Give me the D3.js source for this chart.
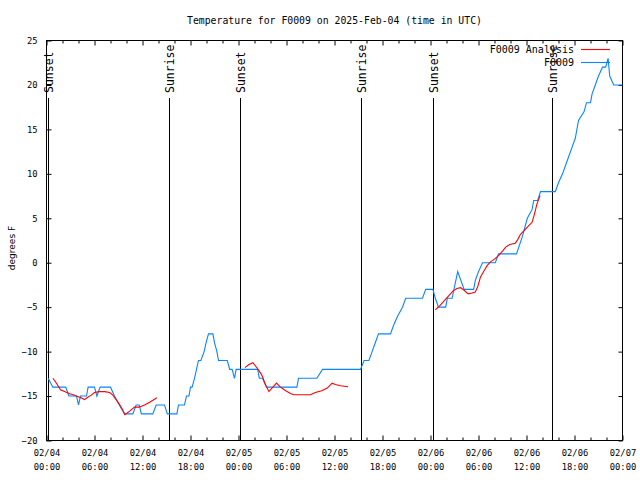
<!DOCTYPE html>
<html><head><meta charset="utf-8">
<script src="https://cdn.jsdelivr.net/npm/d3@7"></script>
<style>body{margin:0;background:#fff}</style>
</head><body>
<svg id="c" width="640" height="480"></svg>
<script>
// ---- data ----
const titleText = "Temperature for F0009 on 2025-Feb-04 (time in UTC)";
const yLabel = "degrees F";
// hours since 02/04 00:00 UTC
const obsHours = [0.2,0.8,2.4,2.8,3.75,4.0,4.25,5.0,5.2,6.0,6.3,6.7,8.0,8.5,9.1,9.75,10.8,11.2,11.6,11.85,13.3,13.7,14.75,15.1,16.3,16.5,17.25,17.5,17.8,18.0,18.2,18.5,18.75,19.0,19.3,19.7,19.95,20.25,20.8,21.0,21.3,21.5,22.6,22.9,23.2,23.5,23.7,26.4,26.6,27.0,27.5,31.3,31.5,33.8,34.5,39.25,39.7,40.3,40.7,41.1,41.5,43.0,43.4,43.9,44.5,44.9,47.0,47.4,48.3,48.6,49.0,49.9,50.1,50.7,51.4,52.2,53.4,53.6,54.0,54.5,56.1,56.5,58.75,59.5,60.1,60.7,60.9,61.4,61.75,63.6,64.0,64.5,64.9,65.3,65.7,66.1,66.5,67.2,67.5,68.0,68.2,68.6,69.0,69.5,69.9,70.2,70.4,70.9,72];
const obsTemps = [-13,-14,-14,-15,-15,-16,-15,-15,-14,-14,-15,-14,-14,-15,-16,-17,-17,-16,-16,-17,-17,-16,-16,-17,-17,-16,-16,-15,-15,-14,-14,-13,-12,-11,-11,-10,-9,-8,-8,-9,-10,-11,-11,-12,-12,-13,-12,-12,-13,-13,-14,-14,-13,-13,-12,-12,-11,-11,-10,-9,-8,-8,-7,-6,-5,-4,-4,-3,-3,-4,-5,-5,-4,-4,-1,-3,-3,-2,-1,0,0,1,1,3,5,6,7,7,8,8,9,10,11,12,13,14,16,17,18,18,19,20,21,22,22,23,21,20,20];
const anaHours = [0.8,1.2,1.75,2.25,2.9,3.5,3.9,4.3,4.75,5.2,5.6,6.0,6.6,7.25,7.9,8.3,8.7,9.1,9.5,9.8,10.4,11.0,11.6,12.25,12.9,13.8,
  null,
  24.8,25.3,25.8,26.2,26.6,26.95,27.3,27.8,28.3,28.75,29.25,29.9,30.5,30.9,32.0,33.0,33.6,34.4,35.1,35.7,36.1,36.75,37.7,
  null,
  48.6,49.2,49.7,50.3,50.8,51.3,51.75,52.2,52.7,53.2,53.6,53.9,54.25,54.7,55.1,55.5,56.0,56.5,57.0,57.4,57.9,58.6,58.9,59.25,59.7,60.2,60.7,61.0,61.3,61.7];
const anaTemps = [-13.0,-13.5,-14.3,-14.5,-14.75,-14.9,-15.05,-15.2,-15.4,-15.1,-14.9,-14.6,-14.5,-14.5,-14.6,-14.9,-15.4,-15.9,-16.5,-17.1,-16.7,-16.25,-16.25,-16.0,-15.7,-15.2,
  null,
  -11.8,-11.45,-11.25,-11.7,-12.2,-12.7,-13.55,-14.5,-14.0,-13.55,-14.0,-14.4,-14.7,-14.85,-14.85,-14.85,-14.6,-14.4,-14.1,-13.55,-13.7,-13.85,-13.95,
  null,
  -5.3,-4.8,-4.3,-3.7,-3.2,-2.9,-2.8,-3.1,-3.5,-3.4,-3.3,-2.7,-1.6,-0.9,-0.3,0.1,0.4,0.8,1.3,1.75,2.05,2.2,2.6,3.2,3.6,4.1,4.55,5.5,6.6,7.55];
const sunHours = [0.2,15.25,24.2,39.3,48.3,63.2];
const sunLabels = ["Sunset","Sunrise","Sunset","Sunrise","Sunset","Sunrise"];
const xTickHours = [0,6,12,18,24,30,36,42,48,54,60,66,72];
const xTickLabels = ["02/04\n00:00","02/04\n06:00","02/04\n12:00","02/04\n18:00","02/05\n00:00","02/05\n06:00","02/05\n12:00","02/05\n18:00","02/06\n00:00","02/06\n06:00","02/06\n12:00","02/06\n18:00","02/07\n00:00"];
const yTicks = [-20,-15,-10,-5,0,5,10,15,20,25];
const seriesNames = ["F0009 Analysis","F0009"];
const seriesColors = ["#ff0000","#0a84ff"];

// ---- drawing ----
const svg = d3.select("#c");
const L = 46.5, R = 622.5, T = 40.5, B = 440.5;
const x = d3.scaleLinear().domain([0,72]).range([L,R]);
const y = d3.scaleLinear().domain([-20,25]).range([B,T]);
const mono = "'DejaVu Sans Mono', monospace";

svg.append("rect").attr("width",640).attr("height",480).attr("fill","#fff");

// minor x ticks (every 2 h)
const minor = d3.range(0,73,2).filter(d=>d%6!==0);
svg.append("g").attr("transform",`translate(0,${B})`)
  .call(d3.axisBottom(x).tickValues(minor).tickSizeInner(-3).tickSizeOuter(0).tickFormat(""));
svg.append("g").attr("transform",`translate(0,${T})`)
  .call(d3.axisTop(x).tickValues(minor).tickSizeInner(-3).tickSizeOuter(0).tickFormat(""));
// major x ticks
const xb = svg.append("g").attr("transform",`translate(0,${B})`)
  .call(d3.axisBottom(x).tickValues(xTickHours).tickSizeInner(-5).tickSizeOuter(0).tickPadding(9)
    .tickFormat((d,i)=>xTickLabels[i]));
svg.append("g").attr("transform",`translate(0,${T})`)
  .call(d3.axisTop(x).tickValues(xTickHours).tickSizeInner(-5).tickSizeOuter(0).tickFormat(""));
xb.selectAll("text").each(function(){
  const t = d3.select(this); const parts = t.text().split("\n");
  t.text(null);
  parts.forEach((p,i)=>t.append("tspan").attr("x",0).attr("dy", i===0 ? "0.71em" : "14px").text(p));
});
// y ticks
svg.append("g").attr("transform",`translate(${L},0)`)
  .call(d3.axisLeft(y).tickValues(yTicks).tickSizeInner(-5).tickSizeOuter(0).tickPadding(9).tickFormat(d3.format("d")));
svg.append("g").attr("transform",`translate(${R},0)`)
  .call(d3.axisRight(y).tickValues(yTicks).tickSizeInner(-4).tickSizeOuter(0).tickFormat(""));
svg.selectAll(".domain").remove();
svg.selectAll(".tick line").attr("stroke","#000");
svg.selectAll(".tick text").attr("font-family",mono).attr("font-size","8.8px").attr("fill","#000");

// border
svg.append("rect").attr("x",L).attr("y",T).attr("width",R-L).attr("height",B-T)
  .attr("fill","none").attr("stroke","#000").attr("stroke-width",1);

// sunrise / sunset
sunHours.forEach((h,i)=>{
  const xp = Math.round(x(h))+0.5;
  svg.append("line").attr("x1",xp).attr("x2",xp).attr("y1",98).attr("y2",B)
    .attr("stroke","#000").attr("stroke-width",1);
  svg.append("text").attr("transform",`translate(${xp+4},93) rotate(-90)`)
    .attr("font-family",mono).attr("font-size","11.5px").attr("fill","#000")
    .text(sunLabels[i]);
});

// series
const lineObs = d3.line().x((d,i)=>x(obsHours[i])).y((d,i)=>y(obsTemps[i]));
svg.append("path").datum(obsHours).attr("d",lineObs)
  .attr("fill","none").attr("stroke",seriesColors[1]).attr("stroke-width",1.1);
const lineAna = d3.line().defined((d,i)=>anaHours[i]!==null && anaTemps[i]!==null)
  .x((d,i)=>x(anaHours[i])).y((d,i)=>y(anaTemps[i]));
svg.append("path").datum(anaHours).attr("d",lineAna)
  .attr("fill","none").attr("stroke",seriesColors[0]).attr("stroke-width",1.1);

// legend
seriesNames.forEach((n,i)=>{
  const yy = 49.5 + i*13;
  svg.append("text").attr("x",574).attr("y",yy+3.5).attr("text-anchor","end")
    .attr("font-family",mono).attr("font-size","10px").attr("fill","#000").text(n);
  svg.append("line").attr("x1",581).attr("x2",610).attr("y1",yy).attr("y2",yy)
    .attr("stroke",seriesColors[i]).attr("stroke-width",1.1);
});

// title & y label
svg.append("text").attr("x",(L+R)/2).attr("y",23.5).attr("text-anchor","middle")
  .attr("font-family",mono).attr("font-size","9.8px").attr("fill","#000").text(titleText);
svg.append("text").attr("transform",`translate(15,248) rotate(-90)`).attr("text-anchor","middle")
  .attr("font-family","'DejaVu Sans', sans-serif").attr("font-size","9px").attr("fill","#000").text(yLabel);
</script>
</body></html>
